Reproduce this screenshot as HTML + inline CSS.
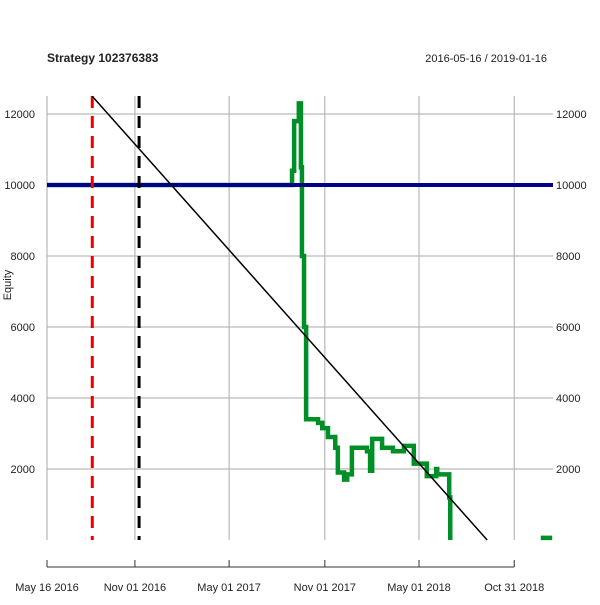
<!DOCTYPE html>
<html><head><meta charset="utf-8"><style>
body{margin:0;background:#fff}
text{font-family:"Liberation Sans",sans-serif;font-size:11px;fill:#222}
</style></head><body>
<svg id="c" width="600" height="600">
<text x="47" y="62" style="font-weight:bold;font-size:12px">Strategy 102376383</text>
<text x="547" y="62" text-anchor="end">2016-05-16 / 2019-01-16</text>
<text transform="translate(11,285) rotate(-90)" text-anchor="middle">Equity</text>
<g id="grid"></g><g id="marks"></g><g id="axes"></g>
</svg>
<script>
const yTicks=[2000,4000,6000,8000,10000,12000];
const xTickDays=[0,169,350,534,715,898];
const xTickLabels=["May 16 2016","Nov 01 2016","May 01 2017","Nov 01 2017","May 01 2018","Oct 31 2018"];
const eqDays=[0,471,475,484,488,490,494,498,521,529,540,554,559,571,577,586,615,621,625,644,665,686,705,730,748,750,769,773,775];
const eqVals=[10000,10400,11800,12300,10500,8000,6000,3400,3300,3150,2900,2600,1900,1700,1850,2600,2500,1950,2850,2600,2500,2650,2150,1800,2000,1850,1850,1200,0];
const tailDays=[949,971];
const tailVals=[60,60];
const baseline=10000;
const trendDays=[87,846];
const trendVals=[12500,0];
const redLineDay=87, blackLineDay=177;
const X=d=>47+d*0.5203, Y=v=>540-v*0.0355;
const ns="http://www.w3.org/2000/svg";
function mk(p,t,a){const e=document.createElementNS(ns,t);for(const k in a)e.setAttribute(k,a[k]);document.getElementById(p).appendChild(e);return e;}
yTicks.forEach(v=>{
 let l=mk('grid','line',{x1:47,x2:553,y1:Y(v),y2:Y(v),stroke:'#aaa'});
 
 
 let t=mk('axes','text',{x:35,y:Y(v)+4,'text-anchor':'end'});t.textContent=v;
 
 
 let t2=mk('axes','text',{x:556,y:Y(v)+4,'text-anchor':'start'});t2.textContent=v;
 
 
});
xTickDays.forEach((d,i)=>{
 let l=mk('grid','line',{x1:X(d),x2:X(d),y1:96,y2:540,stroke:'#aaa'});
 
 
 let tk=mk('axes','line',{x1:X(d),x2:X(d),y1:560,y2:567,stroke:'#333'});
 
 
 let t=mk('axes','text',{x:X(d),y:591,'text-anchor':'middle'});t.textContent=xTickLabels[i];
 
 
});
let ax=mk('axes','line',{x1:X(0),x2:X(898),y1:567,y2:567,stroke:'#333'});


function step(ds,vs){let s='M'+X(ds[0])+','+Y(vs[0]);for(let i=1;i<ds.length;i++)s+='H'+X(ds[i])+'V'+Y(vs[i]);return s;}
let g=mk('marks','path',{d:step(eqDays,eqVals),fill:'none',stroke:'#008f26','stroke-width':4.5});


let g2=mk('marks','path',{d:step(tailDays,tailVals),fill:'none',stroke:'#008f26','stroke-width':4.5});


let bl=mk('marks','line',{x1:47,x2:553,y1:Y(baseline),y2:Y(baseline),stroke:'#00008b','stroke-width':4});


let rl=mk('marks','line',{x1:X(redLineDay),x2:X(redLineDay),y1:96,y2:540,stroke:'#e00','stroke-width':3,'stroke-dasharray':'12,8'});


let kl=mk('marks','line',{x1:X(blackLineDay),x2:X(blackLineDay),y1:96,y2:540,stroke:'#000','stroke-width':3,'stroke-dasharray':'12,8'});


let tr=mk('marks','line',{x1:X(trendDays[0]),y1:Y(trendVals[0]),x2:X(trendDays[1]),y2:Y(trendVals[1]),stroke:'#000','stroke-width':1.5});


</script>
</body></html>
